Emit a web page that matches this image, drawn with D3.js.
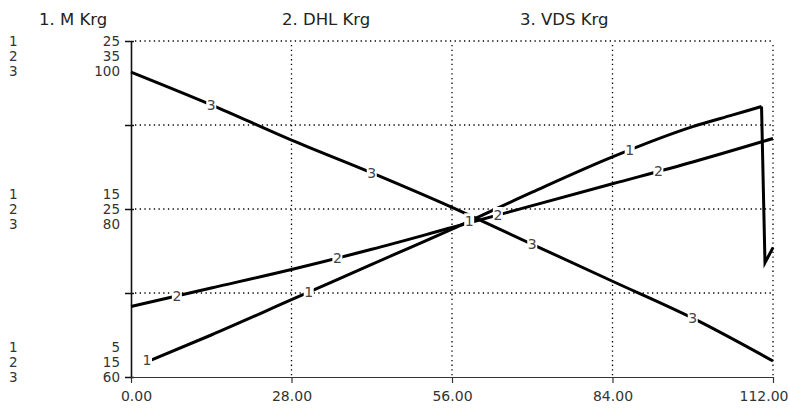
<!DOCTYPE html>
<html>
<head>
<meta charset="utf-8">
<script src="https://cdn.jsdelivr.net/npm/d3@7"></script>
<style>
  body { margin: 0; background: #fff; }
  svg { display: block; font-family: "DejaVu Sans", sans-serif; }
</style>
</head>
<body>
<div id="chart"></div>
<script>
// series
const mX = [3.5, 14, 28, 42, 56, 70, 84, 98, 105, 110, 110.6, 112];
const mKrg = [6.0, 7.5, 9.6, 11.7, 13.8, 16.0, 18.1, 19.9, 20.6, 21.1, 11.8, 12.7];
const xVals = [0, 14, 28, 42, 56, 70, 84, 98, 112];
const dhlKrg = [19.2, 20.3, 21.4, 22.6, 23.9, 25.2, 26.5, 27.8, 29.2];
const vdsKrg = [96.3, 92.4, 88.2, 84.3, 80.2, 75.8, 71.4, 67.0, 61.9];

const titles = ["1. M Krg", "2. DHL Krg", "3. VDS Krg"];
const xTicks = [0, 28, 56, 84, 112];
const mTicks = [5, 15, 25];
const dhlTicks = [15, 25, 35];
const vdsTicks = [60, 80, 100];
const labelX = [[2.8, 31, 59, 87], [8, 36, 64, 92], [14, 42, 70, 98]];

const W = 789, H = 412;
const mLeft = 131, mRight = 773, mTop = 41, mBottom = 377;

const svg = d3.select("#chart").append("svg").attr("width", W).attr("height", H);

const x = d3.scaleLinear().domain([0, 112]).range([mLeft, mRight]);
const y1 = d3.scaleLinear().domain([5, 25]).range([mBottom, mTop]);
const y2 = d3.scaleLinear().domain([15, 35]).range([mBottom, mTop]);
const y3 = d3.scaleLinear().domain([60, 100]).range([mBottom, mTop]);

// titles
const titleX = [39, 282, 520];
titles.forEach((t, i) => {
  svg.append("text").attr("x", titleX[i]).attr("y", 25)
    .style("font-size", "16.5px").attr("fill", "#222").text(t);
});

// dotted grid
const grid = svg.append("g").attr("stroke", "#000").attr("stroke-width", 1.3)
  .attr("stroke-dasharray", "1.3,3.4");
[10, 15, 20, 25].forEach((v) => {
  grid.append("line").attr("x1", mLeft + 4).attr("x2", mRight)
    .attr("y1", y1(v)).attr("y2", y1(v));
});
xTicks.filter((v) => v > 0).forEach((v) => {
  grid.append("line").attr("x1", x(v)).attr("x2", x(v))
    .attr("y1", mTop + 4).attr("y2", mBottom);
});

// axes
const yAxis = d3.axisLeft(y1).tickValues([5, 10, 15, 20, 25]).tickFormat("")
  .tickSizeInner(6).tickSizeOuter(0);
const gy = svg.append("g").attr("transform", `translate(${mLeft},0)`).call(yAxis);
gy.select(".domain").attr("stroke", "#111").attr("stroke-width", 1.6);
gy.selectAll(".tick line").attr("x2", -6).attr("x1", 3).attr("stroke", "#111").attr("stroke-width", 1.5);

const xAxis = d3.axisBottom(x).tickValues(xTicks).tickFormat(d3.format(".2f"))
  .tickSizeInner(6).tickSizeOuter(0).tickPadding(8);
const gx = svg.append("g").attr("transform", `translate(0,${mBottom})`).call(xAxis);
gx.select(".domain").attr("stroke", "#333").attr("stroke-width", 1.2);
gx.selectAll(".tick line").attr("stroke", "#333").attr("stroke-width", 1.2);
gx.selectAll("text").style("font-size", "14px").attr("fill", "#333")
  .attr("font-family", "DejaVu Sans, sans-serif");
gx.selectAll(".tick").filter((d) => d === 112).select("text")
  .attr("text-anchor", "end").attr("x", 15);
gx.selectAll(".tick").filter((d) => d === 0).select("text").attr("x", 5);

// stacked y labels for the three scales
const rowOff = [[-30, -15, 0], [-15, 0, 15], [0, 15, 30]];
mTicks.forEach((v, i) => {
  const base = y1(v);
  [mTicks[i], dhlTicks[i], vdsTicks[i]].forEach((lab, k) => {
    const yy = base + rowOff[i][k];
    svg.append("text").attr("x", 120).attr("y", yy).attr("dy", "0.36em")
      .attr("text-anchor", "end").style("font-size", "13.5px").attr("fill", "#333").text(lab);
    svg.append("text").attr("x", 9).attr("y", yy).attr("dy", "0.36em")
      .style("font-size", "13.5px").attr("fill", "#333").text(k + 1);
  });
});

// lines
const series = [
  { xs: mX, vs: mKrg, y: y1 },
  { xs: xVals, vs: dhlKrg, y: y2 },
  { xs: xVals, vs: vdsKrg, y: y3 },
];
const smooth = d3.line().curve(d3.curveMonotoneX);
const straight = d3.line();
series.forEach((s, si) => {
  const pts = s.xs.map((d, i) => [x(d), s.y(s.vs[i])]);
  // series 1 drops sharply after its peak, keep that part straight
  const peak = si === 0 ? d3.maxIndex(s.vs) : pts.length - 1;
  svg.append("path").datum(pts.slice(0, peak + 1)).attr("fill", "none")
    .attr("stroke", "#000").attr("stroke-width", 3).attr("d", smooth);
  if (peak < pts.length - 1) {
    svg.append("path").datum(pts.slice(peak)).attr("fill", "none")
      .attr("stroke", "#000").attr("stroke-width", 3).attr("d", straight);
  }
});

// number labels sitting on the lines
series.forEach((s, si) => {
  const interp = d3.scaleLinear().domain(s.xs).range(s.vs).clamp(true);
  labelX[si].forEach((lx) => {
    const px = x(lx), py = s.y(interp(lx));
    const g = svg.append("g").attr("transform", `translate(${px},${py})`);
    g.append("rect").attr("x", -5).attr("y", -8).attr("width", 10).attr("height", 16)
      .attr("fill", "#fff");
    g.append("text").attr("text-anchor", "middle").attr("dy", "0.36em")
      .style("font-size", "14px").attr("fill", "#444").text(si + 1);
  });
});
</script>
</body>
</html>
